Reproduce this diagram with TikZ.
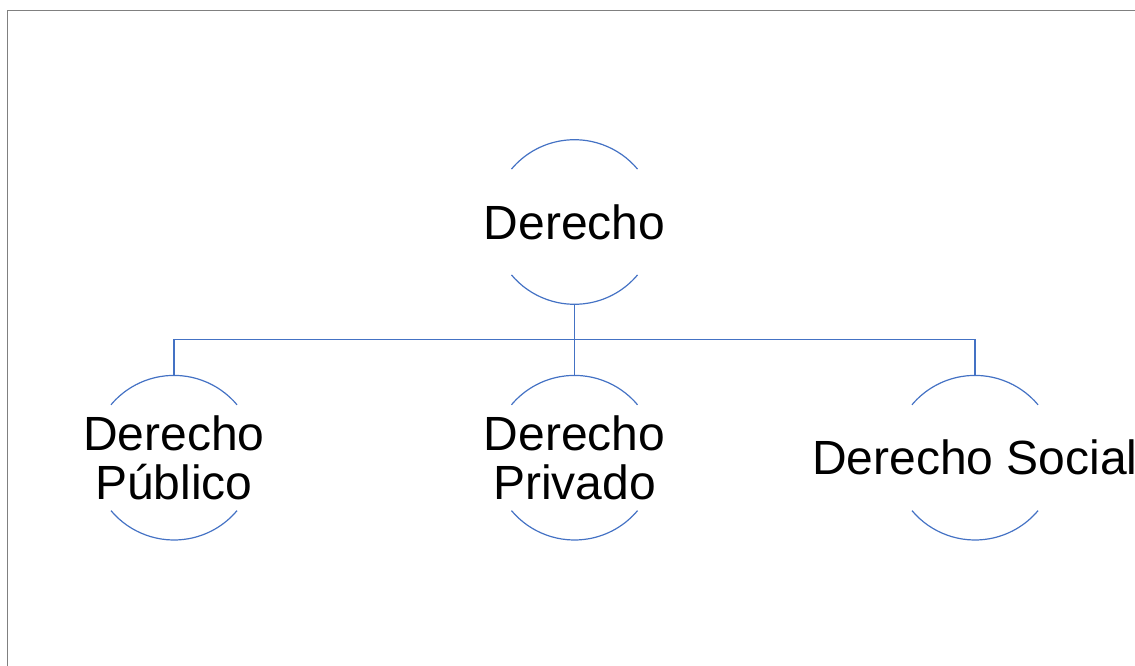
\documentclass[tikz,border=0pt]{standalone}
\usepackage{fontspec}
\setmainfont{Liberation Sans}
\definecolor{ringblue}{HTML}{4472C4}
\definecolor{framegray}{HTML}{808080}

\begin{document}
\begin{tikzpicture}[x=1pt,y=1pt]
\tikzstyle{every node} = [font = \fontsize{48}{49}\selectfont]
\tikzstyle{ring} = [circle, minimum size=164.6pt, inner sep=0pt, outer sep=0pt]
\tikzstyle{rim} = [draw=ringblue, line width=1.2pt]
	\useasboundingbox (0,0) rectangle (1135,-666);
	\draw [line width=1.3pt, draw=framegray] (7.5,-666) -- (7.5,-10.3) -- (1135,-10.3);
	\node [ring, label={center:Derecho}] (Derecho) at (574.5,-222) {}
		[level distance=235.7pt, sibling distance=400.5pt,
		 edge from parent/.style={rim},
		 edge from parent path={(\tikzparentnode.south) -- +(0,-35.5) -| (\tikzchildnode.north)}]
		child {node [ring, label={[align=center]center:Derecho\\Público}] (Publico) {}}
		child {node [ring, label={[align=center]center:Derecho\\Privado}] (Privado) {}}
		child {node [ring, label={center:Derecho Social}] (Social) {}}
	;
	\foreach \n in {Derecho, Publico, Privado, Social}
		\draw [rim] (\n.40) arc [start angle=40, end angle=140, radius=82.3pt]
			(\n.220) arc [start angle=220, end angle=320, radius=82.3pt];
\end{tikzpicture}
\end{document}
